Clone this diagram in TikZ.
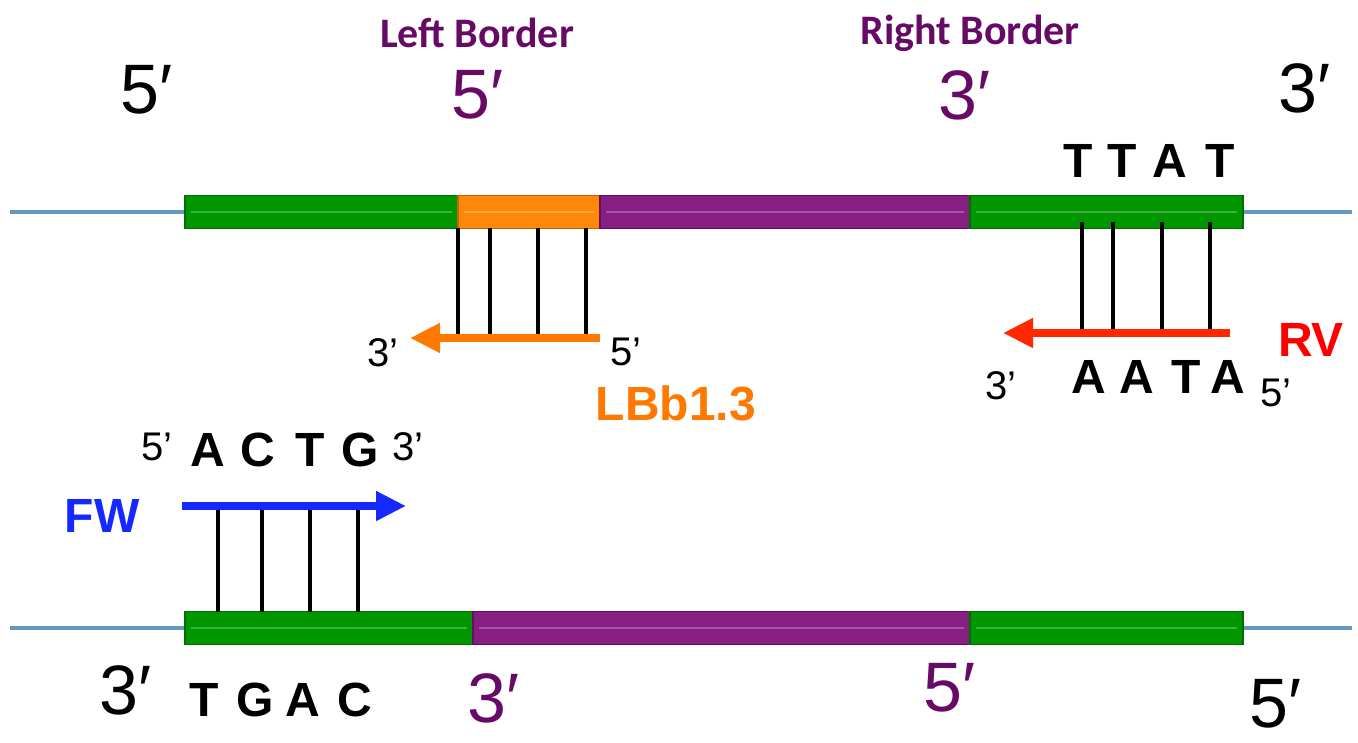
\documentclass[tikz,border=0pt]{standalone}
\usepackage{fontspec}
\setmainfont{Liberation Sans}
\newfontfamily\brd{Carlito}
\usetikzlibrary{arrows.meta}
\definecolor{gbar}{RGB}{0,150,0}
\definecolor{gdark}{RGB}{0,110,0}
\definecolor{obar}{RGB}{255,136,10}
\definecolor{odark}{RGB}{200,100,0}
\definecolor{pbar}{RGB}{135,30,130}
\definecolor{pdark}{RGB}{100,15,95}
\definecolor{ptext}{RGB}{102,10,102}
\definecolor{dnaline}{RGB}{100,150,200}
\definecolor{otext}{RGB}{255,120,0}
\definecolor{rarrow}{RGB}{255,40,0}
\definecolor{rtext}{RGB}{255,0,0}
\definecolor{btext}{RGB}{20,40,255}
\begin{document}
\begin{tikzpicture}[x=1pt,y=-1pt,
  seg/.style={draw=#1dark,line width=1.5pt,fill=#1bar,minimum height=33pt,inner sep=0pt,outer sep=0pt,anchor=west},
  big/.style={font=\fontsize{70}{70}\selectfont,inner sep=0pt},
  med/.style={font=\fontsize{40}{40}\selectfont,inner sep=0pt},
  base/.style={font=\fontsize{48}{48}\selectfont\bfseries,inner sep=0pt},
  bordertxt/.style={font=\brd\fontsize{42}{42}\selectfont\bfseries,text=ptext,inner sep=0pt},
  tick/.style={line width=4pt,black},
  hl/.style={line width=1.2pt,white,opacity=0.25},
  primer/.style={line width=8pt,-{Triangle[length=30pt,width=28pt]}},
]
\useasboundingbox (0,0) rectangle (1358,743);
% ---------- top strand ----------
\draw[dnaline,line width=4pt] (10,212) -- (1352,212);
\node[seg=g,minimum width=273pt] (tg1) at (185,212) {};
\node[seg=o,minimum width=142pt] (to) at (458,212) {};
\node[seg=p,minimum width=370pt] (tp) at (600,212) {};
\node[seg=g,minimum width=273pt] (tg2) at (970,212) {};
\foreach \b/\c in {191/452, 464/594, 606/964, 976/1237}
  \draw[hl] (\b,212) -- (\c,212);
% ---------- bottom strand ----------
\draw[dnaline,line width=4pt] (10,628) -- (1352,628);
\node[seg=g,minimum width=288pt] (bg1) at (185,628) {};
\node[seg=p,minimum width=497pt] (bp) at (473,628) {};
\node[seg=g,minimum width=273pt] (bg2) at (970,628) {};
\foreach \b/\c in {191/467, 479/964, 976/1237}
  \draw[hl] (\b,628) -- (\c,628);
% ---------- labels top ----------
\node[bordertxt] (lb) at (477,33) {Left Border};
\node[bordertxt] (rb) at (970,33) {Right Border};
\node[big] (t5a) at (147,90) {5′};
\node[big,text=ptext] (t5b) at (478,95) {5′};
\node[big,text=ptext] (t3b) at (965,95) {3′};
\node[big] (t3a) at (1305,88) {3′};
\node[base] (n1) at (1078,161) {T};
\node[base] (n2) at (1122,161) {T};
\node[base] (n3) at (1170,161) {A};
\node[base] (n4) at (1220,161) {T};
% ---------- LBb1.3 primer ----------
\coordinate (lbs) at (600,338);
\coordinate (lbe) at (410,338);
\draw[primer,otext] (lbs) -- (lbe);
\foreach \x in {458,490,538,586}
  \draw[tick] (\x,228) -- (\x,334);
\node[med] (l3) at (383,353) {3’};
\node[med] (l5) at (626,352) {5’};
\node[font=\fontsize{48}{48}\selectfont\bfseries,text=otext,inner sep=0pt] (lbn) at (676,403) {LBb1.3};
% ---------- RV primer ----------
\coordinate (rvs) at (1230,333);
\coordinate (rve) at (1003,333);
\foreach \x in {1082,1113,1162,1210}
  \draw[tick] (\x,222) -- (\x,329);
\draw[primer,rarrow] (rvs) -- (rve);
\node[font=\fontsize{48}{48}\selectfont\bfseries,text=rtext,inner sep=0pt] (rv) at (1311,340) {RV};
\node[base] (m1) at (1089,377) {A};
\node[base] (m2) at (1137,377) {A};
\node[base] (m3) at (1186,377) {T};
\node[base] (m4) at (1228,377) {A};
\node[med] (r3) at (1001,386) {3’};
\node[med] (r5) at (1276,393) {5’};
% ---------- FW primer ----------
\node[med] (f5) at (157,447) {5’};
\node[base] (f1) at (208,450) {A};
\node[base] (f2) at (258,450) {C};
\node[base] (f3) at (310,450) {T};
\node[base] (f4) at (360,450) {G};
\node[med] (f3p) at (408,447) {3’};
\coordinate (fws) at (182,506);
\coordinate (fwe) at (406,506);
\draw[primer,btext] (fws) -- (fwe);
\foreach \x in {218,262,310,358}
  \draw[tick] (\x,510) -- (\x,612);
\node[font=\fontsize{48}{48}\selectfont\bfseries,text=btext,inner sep=0pt] (fw) at (102,516) {FW};
% ---------- labels bottom ----------
\node[big] (b3a) at (126,690) {3′};
\node[base] (g1) at (204,700) {T};
\node[base] (g2) at (255,700) {G};
\node[base] (g3) at (303,700) {A};
\node[base] (g4) at (355,700) {C};
\node[big,text=ptext] (b3b) at (494,698) {3′};
\node[big,text=ptext] (b5b) at (950,688) {5′};
\node[big] (b5a) at (1276,704) {5′};
\end{tikzpicture}
\end{document}
